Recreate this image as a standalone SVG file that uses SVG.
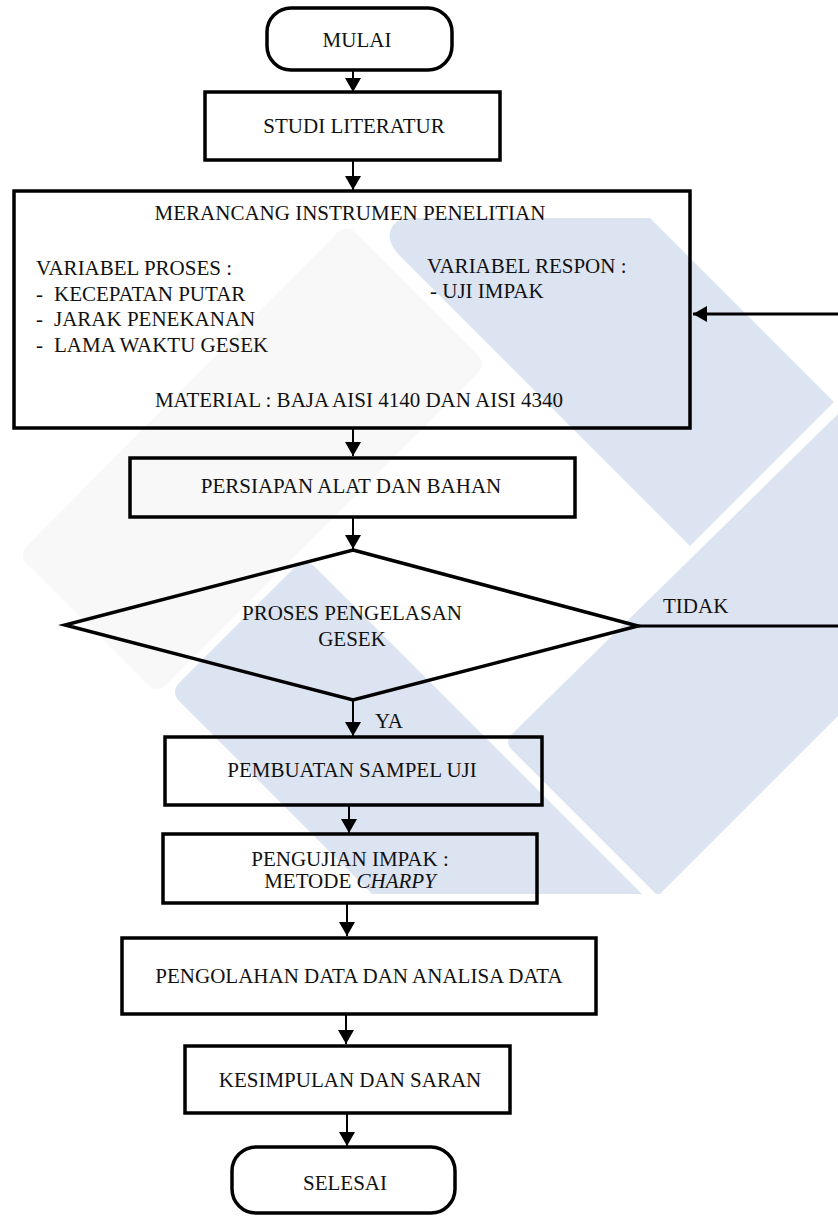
<svg xmlns="http://www.w3.org/2000/svg" width="838" height="1216" viewBox="0 0 838 1216">
<defs>
<style>
text{font-family:'Liberation Serif','Times New Roman',Tinos,serif;font-size:21px;fill:#111}
.m{text-anchor:middle}
.box{fill:none;stroke:#000;stroke-width:3.5}
.ln{fill:none;stroke:#000;stroke-width:2}
.fb{fill:none;stroke:#000;stroke-width:3}
.wb{fill:#dce3f1}
.wg{fill:#f8f8f9}
</style>
<marker id="ah" viewBox="0 0 14 16" refX="14" refY="8" markerWidth="14" markerHeight="16" markerUnits="userSpaceOnUse" orient="auto">
<path d="M0,0 L14,8 L0,16 Z" fill="#000"/>
</marker>
</defs>
<rect width="838" height="1216" fill="#fff"/>
<g id="watermark">
<path class="wg" d="M335,235 Q345,222 357,234 L478,355 Q486,364 478,373 L167,684 Q157,694 147,684 L28,565 Q18,555 28,545 Z"/>
<path class="wb" d="M410,218 H650 L834,402 L690,546 L398,254 Q386,240 391,229 Q396,218 410,218 Z"/>
<path class="wb" d="M372,894 L180,702 Q170,692 180,682 L294,568 Q305,557 316,568 L642,894 Z"/>
<path class="wb" d="M838,414 V716 L660,894 H656 L512,750 Q504,742 512,734 Z"/>
</g>
<g id="connectors">
<line class="ln" x1="353" y1="70" x2="353" y2="92" marker-end="url(#ah)"/>
<line class="ln" x1="353" y1="160" x2="353" y2="190" marker-end="url(#ah)"/>
<line class="ln" x1="353" y1="428" x2="353" y2="456" marker-end="url(#ah)"/>
<line class="ln" x1="353" y1="517" x2="353" y2="549" marker-end="url(#ah)"/>
<line class="ln" x1="353" y1="700" x2="353" y2="736" marker-end="url(#ah)"/>
<line class="ln" x1="349" y1="805" x2="349" y2="833" marker-end="url(#ah)"/>
<line class="ln" x1="347" y1="903" x2="347" y2="936" marker-end="url(#ah)"/>
<line class="ln" x1="346" y1="1014" x2="346" y2="1044" marker-end="url(#ah)"/>
<line class="ln" x1="347" y1="1113" x2="347" y2="1146" marker-end="url(#ah)"/>
<path class="fb" d="M638,626 H846 V314 H693" marker-end="url(#ah)"/>
<text font-family="Liberation Serif, serif" x="663" y="613">TIDAK</text>
<text font-family="Liberation Serif, serif" x="375" y="728">YA</text>
</g>
<g id="mulai">
<rect class="box" x="267" y="8" width="185" height="62" rx="24" ry="24"/>
<text font-family="Liberation Serif, serif" class="m" x="357" y="47">MULAI</text>
</g>
<g id="studi">
<rect class="box" x="205" y="92" width="295" height="68"/>
<text font-family="Liberation Serif, serif" class="m" x="354" y="133">STUDI LITERATUR</text>
</g>
<g id="merancang">
<rect class="box" x="14" y="191" width="676" height="237"/>
<text font-family="Liberation Serif, serif" class="m" x="350" y="220">MERANCANG INSTRUMEN PENELITIAN</text>
<text font-family="Liberation Serif, serif" x="36" y="275">VARIABEL PROSES :</text>
<text font-family="Liberation Serif, serif" x="36" y="300.5">-</text><text font-family="Liberation Serif, serif" x="54" y="300.5">KECEPATAN PUTAR</text>
<text font-family="Liberation Serif, serif" x="36" y="326">-</text><text font-family="Liberation Serif, serif" x="54" y="326">JARAK PENEKANAN</text>
<text font-family="Liberation Serif, serif" x="36" y="352">-</text><text font-family="Liberation Serif, serif" x="54" y="352">LAMA WAKTU GESEK</text>
<text font-family="Liberation Serif, serif" x="427" y="273">VARIABEL RESPON :</text>
<text font-family="Liberation Serif, serif" x="430" y="298">- UJI IMPAK</text>
<text font-family="Liberation Serif, serif" class="m" x="359" y="407">MATERIAL : BAJA AISI 4140 DAN AISI 4340</text>
</g>
<g id="persiapan">
<rect class="box" x="130" y="458" width="445" height="59"/>
<text font-family="Liberation Serif, serif" class="m" x="351" y="493">PERSIAPAN ALAT DAN BAHAN</text>
</g>
<g id="proses">
<polygon class="box" points="353,550 638,626 353,700 65,625"/>
<text font-family="Liberation Serif, serif" class="m" x="352" y="620">PROSES PENGELASAN</text>
<text font-family="Liberation Serif, serif" class="m" x="352" y="646">GESEK</text>
</g>
<g id="pembuatan">
<rect class="box" x="165" y="737" width="377" height="68"/>
<text font-family="Liberation Serif, serif" class="m" x="352" y="777">PEMBUATAN SAMPEL UJI</text>
</g>
<g id="pengujian">
<rect class="box" x="163" y="834" width="374" height="69"/>
<text font-family="Liberation Serif, serif" class="m" x="350" y="866">PENGUJIAN IMPAK :</text>
<text font-family="Liberation Serif, serif" class="m" x="350" y="888">METODE <tspan font-style="italic">CHARPY</tspan></text>
</g>
<g id="pengolahan">
<rect class="box" x="122" y="938" width="474" height="76"/>
<text font-family="Liberation Serif, serif" class="m" x="359" y="983">PENGOLAHAN DATA DAN ANALISA DATA</text>
</g>
<g id="kesimpulan">
<rect class="box" x="185" y="1046" width="325" height="67"/>
<text font-family="Liberation Serif, serif" class="m" x="350" y="1087">KESIMPULAN DAN SARAN</text>
</g>
<g id="selesai">
<rect class="box" x="232" y="1147" width="223" height="66" rx="24" ry="24"/>
<text font-family="Liberation Serif, serif" class="m" x="345" y="1190">SELESAI</text>
</g>
</svg>
